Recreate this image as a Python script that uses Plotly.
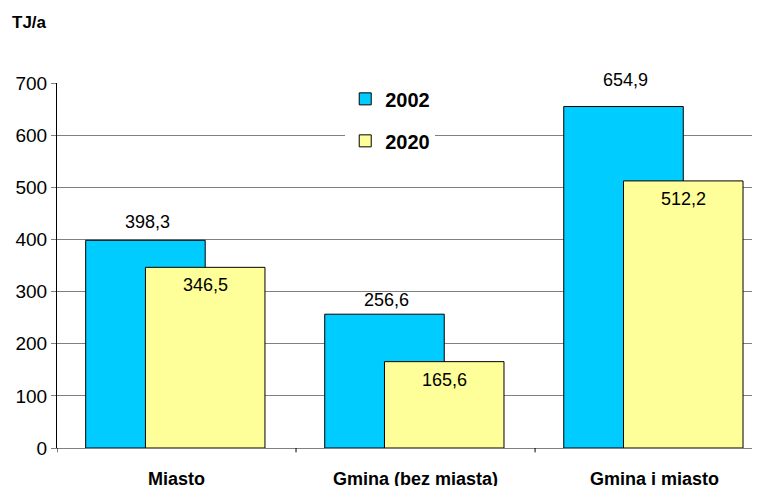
import plotly.graph_objects as go

categories = ["Miasto", "Gmina (bez miasta)", "Gmina i miasto"]
values_2002 = [398.3, 256.6, 654.9]
values_2020 = [346.5, 165.6, 512.2]
labels_2002 = ["398,3", "256,6", "654,9"]
labels_2020 = ["346,5", "165,6", "512,2"]
y_ticks = [0, 100, 200, 300, 400, 500, 600, 700]

FONT = "Liberation Sans, Arial, sans-serif"
BLUE = "#00CCFF"
YELLOW = "#FFFF99"

x_idx = list(range(len(categories)))

fig = go.Figure()
fig.add_trace(go.Bar(
    x=x_idx, y=values_2002, name="<b>2002</b>",
    marker=dict(color=BLUE, line=dict(color="#000000", width=1)),
    width=0.5, offset=-0.38, legendgroup="a",
))
fig.add_trace(go.Bar(
    x=x_idx, y=values_2020, name="<b>2020</b>",
    marker=dict(color=YELLOW, line=dict(color="#000000", width=1)),
    width=0.5, offset=-0.13, legendgroup="b",
))

annotations = []
for i, (v, t) in enumerate(zip(values_2002, labels_2002)):
    # label gap above the bar grows slightly with height, as in the original
    shift = 14 + (v - 256.6) * 0.032
    annotations.append(dict(x=i - 0.12, y=v, text=t, showarrow=False,
                            yshift=shift, font=dict(family=FONT, size=18, color="#000")))
for i, (v, t) in enumerate(zip(values_2020, labels_2020)):
    annotations.append(dict(x=i + 0.12, y=v, text=t, showarrow=False,
                            yshift=-18, font=dict(family=FONT, size=18, color="#000")))
annotations.append(dict(xref="paper", yref="paper", x=-0.067, y=1.165,
                        xanchor="left", yanchor="middle", text="<b>TJ/a</b>",
                        showarrow=False, font=dict(family=FONT, size=17, color="#000")))

# page body has an 8px margin; size figure so the plot lands where intended
fig.update_layout(
    width=752, height=478,
    margin=dict(l=49, r=0, t=75, b=38, autoexpand=False),
    paper_bgcolor="white", plot_bgcolor="white",
    barmode="overlay",
    font=dict(family=FONT, color="#000"),
    showlegend=True,
    legend=dict(x=0.41, y=1.01, xanchor="left", yanchor="top",
                bgcolor="white", font=dict(family=FONT, size=20, color="#000"),
                traceorder="grouped", tracegroupgap=13,
                itemwidth=30),
    annotations=annotations,
    xaxis=dict(
        tickmode="array", tickvals=x_idx,
        ticktext=["<b>" + c + "</b>" for c in categories],
        range=[-0.5, 2.441], automargin=False,
        showgrid=False, showline=True, linecolor="#808080", linewidth=1,
        ticks="", tickfont=dict(family=FONT, size=18, color="#000"),
        ticklabelstandoff=14, zeroline=False,
    ),
    yaxis=dict(
        range=[0, 700], tickvals=y_ticks, automargin=False,
        showgrid=True, gridcolor="#808080", gridwidth=1,
        showline=True, linecolor="#000000", linewidth=1,
        ticks="outside", ticklen=5, tickcolor="#808080",
        tickfont=dict(family=FONT, size=19, color="#000"),
        zeroline=False,
    ),
)

# boundary ticks on the x axis between categories
fig.update_layout(shapes=[
    dict(type="line", xref="x", yref="paper", x0=b, x1=b, y0=0, y1=-0.012,
         line=dict(color="#000000", width=1))
    for b in [-0.5, 0.5, 1.5]
])

fig.write_html("out.html")
